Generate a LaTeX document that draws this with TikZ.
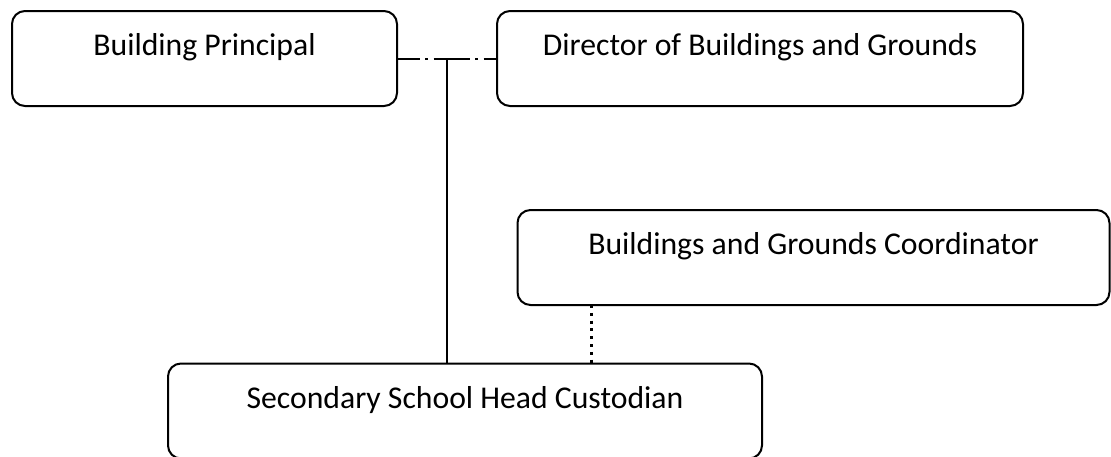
\documentclass[tikz,border=0pt]{standalone}
\usepackage{fontspec}
\setmainfont{Carlito}
\begin{document}
\begin{tikzpicture}[x=1pt,y=-1pt,
  orgbox/.style={draw=black, line width=2pt, rounded corners=13pt, inner sep=0pt, outer sep=0pt,
    anchor=north west, align=center, text height=44.5pt, text depth=50.5pt,
    font=\fontsize{31.7}{38}\selectfont},
  dashdotline/.style={line width=1.5pt, dash pattern=on 23pt off 5pt on 2.5pt off 6pt},
  solidline/.style={line width=1.5pt},
  dotline/.style={line width=3pt, dash pattern=on 3pt off 4.8pt}]
\useasboundingbox (0,0) rectangle (1111,456);
\node[orgbox, minimum width=385pt] (b1) at (12,11) {Building Principal};
\node[orgbox, minimum width=526pt] (b2) at (497,11) {Director of Buildings and Grounds};
\node[orgbox, minimum width=592pt] (b3) at (517.5,210) {Buildings and Grounds Coordinator};
\node[orgbox, minimum width=594pt] (b4) at (168,363.5) {Secondary School Head Custodian};
\coordinate (j) at (447,59);
\coordinate (d) at (591,0);
\draw[dashdotline] (b1.east |- j) -- (j);
\draw[dashdotline] (j) -- (b2.west |- j);
\draw[solidline] (j) -- (j |- b4.north);
\draw[dotline] (b3.south -| d) -- (b4.north -| d);
\end{tikzpicture}
\end{document}
